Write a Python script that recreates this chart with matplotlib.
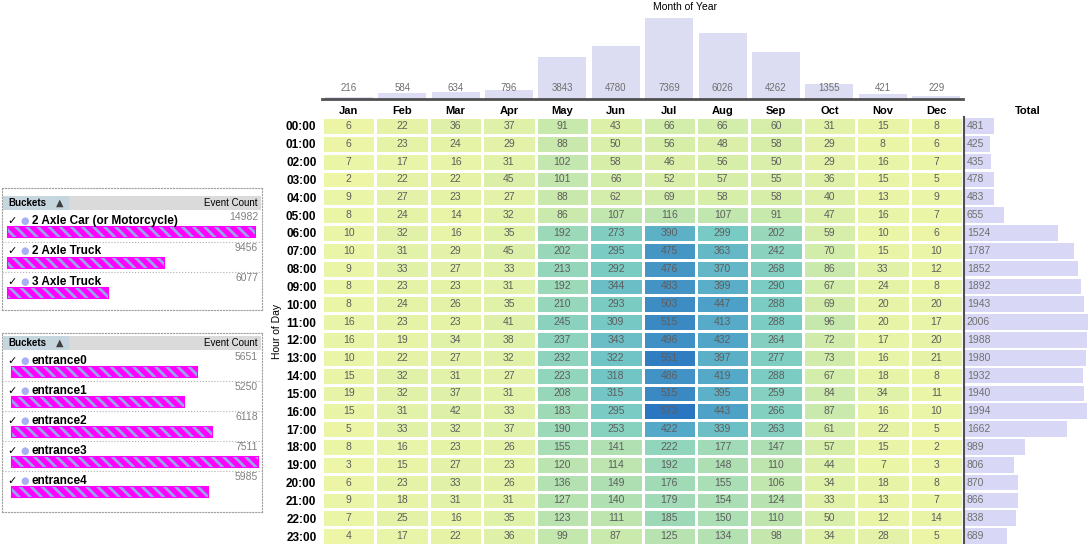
import numpy as np
import matplotlib
matplotlib.use('Agg')
import matplotlib.pyplot as plt
from matplotlib.colors import LinearSegmentedColormap
from matplotlib.transforms import blended_transform_factory

plt.rcParams['font.family'] = ['Liberation Sans', 'DejaVu Sans']
plt.rcParams['hatch.linewidth'] = 2.0

# data
months = ['Jan', 'Feb', 'Mar', 'Apr', 'May', 'Jun', 'Jul', 'Aug', 'Sep', 'Oct', 'Nov', 'Dec']
hours = ['%02d:00' % h for h in range(24)]
counts = np.array([
    [6, 22, 36, 37, 91, 43, 66, 66, 60, 31, 15, 8],
    [6, 23, 24, 29, 88, 50, 56, 48, 58, 29, 8, 6],
    [7, 17, 16, 31, 102, 58, 46, 56, 50, 29, 16, 7],
    [2, 22, 22, 45, 101, 66, 52, 57, 55, 36, 15, 5],
    [9, 27, 23, 27, 88, 62, 69, 58, 58, 40, 13, 9],
    [8, 24, 14, 32, 86, 107, 116, 107, 91, 47, 16, 7],
    [10, 32, 16, 35, 192, 273, 390, 299, 202, 59, 10, 6],
    [10, 31, 29, 45, 202, 295, 475, 363, 242, 70, 15, 10],
    [9, 33, 27, 33, 213, 292, 476, 370, 268, 86, 33, 12],
    [8, 23, 23, 31, 192, 344, 483, 399, 290, 67, 24, 8],
    [8, 24, 26, 35, 210, 293, 503, 447, 288, 69, 20, 20],
    [16, 23, 23, 41, 245, 309, 515, 413, 288, 96, 20, 17],
    [16, 19, 34, 38, 237, 343, 496, 432, 264, 72, 17, 20],
    [10, 22, 27, 32, 232, 322, 551, 397, 277, 73, 16, 21],
    [15, 32, 31, 27, 223, 318, 486, 419, 288, 67, 18, 8],
    [19, 32, 37, 31, 208, 315, 515, 395, 259, 84, 34, 11],
    [15, 31, 42, 33, 183, 295, 573, 443, 266, 87, 16, 10],
    [5, 33, 32, 37, 190, 253, 422, 339, 263, 61, 22, 5],
    [8, 16, 23, 26, 155, 141, 222, 177, 147, 57, 15, 2],
    [3, 15, 27, 23, 120, 114, 192, 148, 110, 44, 7, 3],
    [6, 23, 33, 26, 136, 149, 176, 155, 106, 34, 18, 8],
    [9, 18, 31, 31, 127, 140, 179, 154, 124, 33, 13, 7],
    [7, 25, 16, 35, 123, 111, 185, 150, 110, 50, 12, 14],
    [4, 17, 22, 36, 99, 87, 125, 134, 98, 34, 28, 5],
])
month_totals = [216, 584, 634, 796, 3843, 4780, 7369, 6026, 4262, 1355, 421, 229]
hour_totals = [481, 425, 435, 478, 483, 655, 1524, 1787, 1852, 1892, 1943, 2006,
               1988, 1980, 1932, 1940, 1994, 1662, 989, 806, 870, 866, 838, 689]

axle_names = ['2 Axle Car (or Motorcycle)', '2 Axle Truck', '3 Axle Truck']
axle_counts = [14982, 9456, 6077]
entrance_names = ['entrance0', 'entrance1', 'entrance2', 'entrance3', 'entrance4']
entrance_counts = [5651, 5250, 6118, 7511, 5985]

W, H = 1091, 544
fig = plt.figure(figsize=(W / 100, H / 100), dpi=100)


def px_axes(x0, y0, x1, y1):
    return fig.add_axes([x0 / W, 1 - y1 / H, (x1 - x0) / W, (y1 - y0) / H])


cmap = LinearSegmentedColormap.from_list('heat', [
    (0.0, '#eef6a6'), (0.12, '#d2ecaa'), (0.3, '#a2dbb6'),
    (0.52, '#78cbc4'), (0.75, '#52a6c8'), (1.0, '#2a76c0')])

# heatmap
ax = px_axes(322, 117, 963, 545)
ax.pcolormesh(np.arange(13) - 0.5, np.arange(25) - 0.5, counts, cmap=cmap,
              vmin=0, vmax=counts.max(), edgecolors='white', linewidth=0.9)
for r in range(24):
    for c in range(12):
        ax.text(c, r, str(counts[r, c]), ha='center', va='center',
                fontsize=7.5, color='#5e5e5e')
ax.set_xlim(-0.5, 11.5)
ax.set_ylim(23.5, -0.5)
ax.xaxis.tick_top()
ax.set_xticks(range(12), months, fontweight='bold', fontsize=8)
ax.set_yticks(range(24), hours, fontweight='bold', fontsize=8.5)
ax.tick_params(axis='x', length=0, pad=1)
ax.tick_params(axis='y', length=0, pad=4)
for s in ax.spines.values():
    s.set_visible(False)
ax.set_ylabel('Hour of Day', fontsize=7.5, labelpad=3)

# month totals on top
axt = px_axes(322, 10, 963, 99)
axt.bar(range(12), month_totals, width=0.9, color='#dcdcf2')
for i, v in enumerate(month_totals):
    axt.annotate(str(v), (i, 0), xytext=(0, 4), textcoords='offset points',
                 ha='center', va='bottom', fontsize=7, color='#707070')
axt.set_xlim(-0.5, 11.5)
axt.set_ylim(0, max(month_totals) * 89 / 81)
axt.set_xticks([])
axt.set_yticks([])
for s in ['top', 'left', 'right']:
    axt.spines[s].set_visible(False)
axt.spines['bottom'].set_linewidth(2)
axt.spines['bottom'].set_color('#505050')
fig.text(685 / W, 1 - 7 / H, 'Month of Year', ha='center', va='center', fontsize=7.5)

# hour totals on right
axr = px_axes(964, 117, 1091, 545)
axr.barh(range(24), hour_totals, height=0.88, color='#d8d8f6')
for i, v in enumerate(hour_totals):
    axr.annotate(str(v), (0, i), xytext=(2, 0), textcoords='offset points',
                 ha='left', va='center', fontsize=7.5, color='#707070')
axr.set_ylim(23.5, -0.5)
axr.set_xlim(0, max(hour_totals) * 127 / 124)
axr.set_xticks([])
axr.set_yticks([])
for s in ['top', 'bottom', 'right']:
    axr.spines[s].set_visible(False)
axr.spines['left'].set_linewidth(1.5)
axr.spines['left'].set_color('#505050')
fig.text(1028 / W, 1 - 111 / H, 'Total', ha='center', va='center',
         fontsize=8, fontweight='bold')


def panel(top, bottom, header_y, rows_top, row_h, names, values, bar_x0, bar_x1):
    frame = px_axes(2, top, 262, bottom)
    frame.set_xticks([])
    frame.set_yticks([])
    for s in frame.spines.values():
        s.set_linestyle(':')
        s.set_color('#a0a0a0')
    hdr = px_axes(3, header_y - 7, 261, header_y + 7)
    hdr.set_facecolor('#dadada')
    hdr.axvspan(0, 0.25, color='#c6d6de')
    hdr.set_xlim(0, 1)
    hdr.set_xticks([])
    hdr.set_yticks([])
    for s in hdr.spines.values():
        s.set_visible(False)
    hdr.text(0.02, 0.5, 'Buckets', fontsize=7, fontweight='bold', va='center')
    hdr.text(0.205, 0.5, '▲', fontsize=7, va='center', color='#404040',
             family='DejaVu Sans')
    hdr.text(0.985, 0.5, 'Event Count', fontsize=7, va='center', ha='right')

    n = len(names)
    axp = px_axes(2, rows_top, 262, rows_top + n * row_h)
    vmax = max(values)
    k = vmax / (bar_x1 - bar_x0)
    axp.set_xlim(-(bar_x0 - 2) * k, (262 - bar_x0) * k)
    axp.set_ylim(n, 0)
    axp.patch.set_alpha(0)
    ypos = [i + 0.7 for i in range(n)]
    axp.barh(ypos, values, height=0.32, color='#ff00ff',
             edgecolor='#ff00ff', linewidth=1.5)
    axp.barh(ypos, values, height=0.32, color='none',
             edgecolor='#9aa2ee', hatch='\\\\\\', linewidth=0)
    tr = blended_transform_factory(axp.transAxes, axp.transData)
    for i, (name, v) in enumerate(zip(names, values)):
        axp.text(0.02, i + 0.32, '✓', transform=tr, fontsize=8, fontweight='bold',
                 va='center', family='DejaVu Sans')
        axp.text(0.07, i + 0.32, '●', transform=tr, fontsize=7, color='#a8b0f2',
                 va='center', family='DejaVu Sans')
        axp.text(0.115, i + 0.32, name, transform=tr, fontsize=8.5, fontweight='bold',
                 va='center')
        axp.text(0.985, i + 0.2, str(v), transform=tr, fontsize=7.5, color='#808080',
                 va='center', ha='right')
        if i < n - 1:
            axp.axhline(i + 1, ls=':', color='#b0b0b0', lw=0.8)
    axp.set_xticks([])
    axp.set_yticks([])
    for s in axp.spines.values():
        s.set_visible(False)


panel(188, 310, 203, 211, 30.5, axle_names, axle_counts, 8, 255)
panel(333, 512, 343, 351, 30, entrance_names, entrance_counts, 12, 258)

fig.savefig('out.png', dpi=100)
